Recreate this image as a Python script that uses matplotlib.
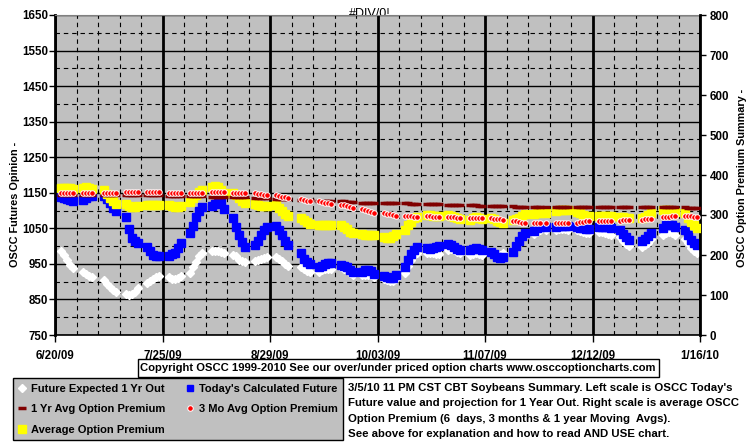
import matplotlib
matplotlib.use("Agg")
import matplotlib.pyplot as plt
import pandas as pd
from matplotlib.lines import Line2D
from matplotlib.patches import Rectangle

plt.rcParams['font.family'] = ['Liberation Sans', 'DejaVu Sans']
plt.rcParams['font.weight'] = 'bold'

# trading days shown on the chart (weekdays, exchange holidays left out)
holidays = ['2009-07-03', '2009-09-07', '2009-11-26', '2009-12-25', '2010-01-01']
days = pd.bdate_range('2009-06-22', '2010-01-15')
days = days[~days.isin(pd.to_datetime(holidays))]

# left scale: futures opinion (one line per week)
fut_1yr = [
    985, 975, 962, 948, 938,
    928, 922, 917, 912,
    905, 893, 884, 877, 872,
    865, 863, 865, 870, 882,
    895, 903, 908, 912, 915,
    912, 908, 908, 910, 915,
    925, 940, 955, 972, 980,
    986, 987, 986, 983, 980,
    975, 972, 962, 958, 955,
    958, 960, 963, 966, 968,
    970, 965, 958, 950, 943,
    940, 935, 930, 928,
    928, 932, 935, 936, 937,
    940, 937, 932, 925, 920,
    920, 920, 920, 918, 912,
    908, 905, 903, 903, 908,
    925, 945, 962, 975, 982,
    980, 982, 980, 978, 978,
    990, 992, 988, 984, 980,
    975, 978, 980, 978, 976,
    980, 975, 970, 975, 982,
    990, 1005, 1015, 1025, 1030,
    1033, 1040, 1045, 1045,
    1045, 1048, 1048, 1047, 1045,
    1045, 1042, 1040, 1038, 1038,
    1040, 1040, 1038, 1035, 1030,
    1025, 1015, 1005, 1000,
    998, 1003, 1010, 1020,
    1030, 1038, 1040, 1038, 1032,
    1020, 1008, 995, 985, 980,
]
fut_today = [
    1138, 1135, 1132, 1130, 1128,
    1130, 1135, 1140, 1142,
    1140, 1132, 1120, 1108, 1098,
    1082, 1048, 1023, 1015, 1009,
    998, 985, 974, 972, 972,
    972, 978, 980, 995, 1009,
    1037, 1057, 1082, 1099, 1110,
    1114, 1118, 1121, 1121, 1104,
    1079, 1055, 1030, 1012, 998,
    1002, 1015, 1031, 1045, 1054,
    1057, 1045, 1030, 1015, 1003,
    980, 965, 955, 950,
    942, 945, 950, 953, 952,
    948, 945, 940, 933, 928,
    928, 932, 934, 930, 922,
    916, 912, 910, 910, 920,
    940, 960, 978, 990, 997,
    995, 993, 996, 998, 1000,
    1005, 1002, 998, 993, 988,
    988, 993, 995, 992, 988,
    983, 978, 970, 967, 970,
    983, 1000, 1015, 1028, 1037,
    1042, 1050, 1054, 1054,
    1055, 1057, 1057, 1057, 1056,
    1055, 1052, 1050, 1048, 1048,
    1053, 1054, 1054, 1053, 1050,
    1045, 1035, 1025, 1017,
    1015, 1020, 1028, 1037,
    1050, 1058, 1060, 1058, 1054,
    1045, 1032, 1018, 1009, 1002,
]

# right scale: option premium averages
avg_prem = [
    368, 368, 367, 367, 366,
    368, 370, 368, 364,
    362, 352, 343, 335, 328,
    328, 322, 320, 320, 322,
    325, 325, 325, 325, 325,
    325, 322, 320, 320, 322,
    332, 342, 350, 357, 362,
    370, 372, 370, 362, 355,
    355, 350, 342, 335, 330,
    327, 325, 323, 322, 322,
    325, 318, 310, 303, 298,
    293, 287, 282, 278,
    275, 275, 276, 276, 275,
    275, 270, 265, 258, 255,
    252, 250, 250, 250, 250,
    245, 243, 243, 248, 253,
    262, 275, 283, 292, 296,
    300, 300, 298, 297, 297,
    300, 298, 296, 293, 290,
    288, 292, 295, 293, 290,
    292, 290, 286, 283, 280,
    288, 290, 293, 298, 302,
    303, 305, 306, 306,
    310, 312, 312, 312, 312,
    308, 305, 300, 298, 297,
    298, 298, 298, 297, 297,
    295, 294, 293, 293,
    292, 295, 300, 305,
    312, 313, 312, 310, 308,
    305, 293, 283, 275, 268,
]
avg_3mo = [
    355, 355, 355, 355, 355,
    355, 355, 355, 355,
    355, 355, 355, 355, 355,
    357, 357, 357, 357, 357,
    357, 357, 357, 357, 357,
    356, 356, 356, 356, 356,
    356, 356, 356, 356, 356,
    358, 358, 358, 358, 358,
    356, 356, 356, 356, 356,
    354, 353, 352, 351, 350,
    350, 348, 346, 344, 342,
    340, 338, 336, 334,
    334, 332, 330, 329, 328,
    326, 324, 322, 320, 318,
    316, 313, 310, 308, 306,
    305, 303, 302, 300, 298,
    298, 297, 297, 296, 296,
    297, 297, 296, 296, 296,
    295, 294, 294, 293, 293,
    293, 293, 292, 292, 292,
    292, 291, 290, 289, 288,
    286, 284, 282, 281, 280,
    280, 280, 280, 280,
    279, 279, 279, 279, 279,
    281, 282, 283, 284, 284,
    284, 285, 286, 286, 286,
    286, 287, 287, 287,
    288, 289, 290, 291,
    295, 296, 296, 297, 297,
    298, 298, 297, 296, 296,
]
avg_1yr = [
    351, 351, 351, 351, 351,
    351, 351, 351, 351,
    350, 350, 350, 350, 350,
    350, 350, 350, 350, 350,
    349, 349, 349, 349, 349,
    348, 348, 348, 348, 348,
    347, 347, 347, 347, 347,
    346, 346, 346, 346, 346,
    345, 345, 345, 345, 345,
    343, 343, 342, 342, 342,
    341, 341, 340, 340, 340,
    338, 338, 337, 337,
    336, 336, 336, 335, 335,
    334, 334, 333, 333, 333,
    331, 331, 331, 330, 330,
    330, 330, 330, 329, 329,
    329, 329, 328, 328, 328,
    328, 328, 327, 327, 327,
    326, 326, 325, 325, 325,
    324, 324, 324, 323, 323,
    323, 323, 322, 322, 322,
    322, 321, 321, 321, 321,
    321, 321, 320, 320,
    320, 320, 320, 320, 320,
    320, 320, 320, 320, 320,
    320, 320, 320, 320, 320,
    320, 320, 320, 320,
    320, 320, 319, 319,
    319, 319, 319, 319, 319,
    319, 318, 318, 318, 318,
]

xtick_labels = ['6/20/09', '7/25/09', '8/29/09', '10/03/09', '11/07/09', '12/12/09', '1/16/10']
legend_labels = ['Future Expected 1 Yr Out', "Today's Calculated Future",
                 '1 Yr Avg Option Premium', '3 Mo Avg Option Premium',
                 'Average Option Premium']
note_lines = [
    "3/5/10 11 PM CST CBT Soybeans Summary. Left scale is OSCC Today's",
    "Future value and projection for 1 Year Out. Right scale is average OSCC",
    "Option Premium (6  days, 3 months & 1 year Moving  Avgs).",
    "See above for explanation and how to read AND USE chart.",
]

W, H = 755, 446
fig = plt.figure(figsize=(W / 100, H / 100), dpi=100)
fig.patch.set_facecolor('white')

ax = fig.add_axes([55 / W, 1 - 335 / H, 645 / W, 320 / H])
ax.set_facecolor('#C0C0C0')
ax.set_xlim(pd.Timestamp('2009-06-20'), pd.Timestamp('2010-01-16'))
ax.set_ylim(750, 1650)
ax.set_xticks(pd.date_range('2009-06-20', periods=7, freq='35D'))
ax.set_xticklabels(xtick_labels)
ax.set_xticks(pd.date_range('2009-06-20', periods=31, freq='7D'), minor=True)
ax.set_yticks(range(750, 1651, 100))
ax.set_yticks(range(800, 1601, 100), minor=True)

ax.grid(which='major', axis='x', color='black', lw=2, ls='-')
ax.grid(which='minor', axis='x', color='black', lw=0.8, ls=(0, (4, 3.5)))
ax.grid(which='major', axis='y', color='black', lw=1, ls='-')
ax.grid(which='minor', axis='y', color='black', lw=0.8, ls=(0, (4, 3.5)))
ax.set_axisbelow(True)

ax.tick_params(axis='both', which='minor', length=0)
ax.tick_params(axis='y', which='major', length=4, width=1, pad=1, labelsize=8.3)
ax.tick_params(axis='x', which='major', length=5, width=1, pad=6, labelsize=8.3)

ax.spines['top'].set_color('#808080')
ax.spines['left'].set_linewidth(2)
ax.spines['bottom'].set_linewidth(1.2)
ax.spines['right'].set_visible(False)

ax2 = ax.twinx()
ax2.set_ylim(0, 800)
ax2.set_yticks(range(0, 801, 100))
ax2.tick_params(axis='y', length=4, width=1, pad=3, labelsize=8.3)
ax2.spines['right'].set_linewidth(2)
ax2.spines['top'].set_visible(False)
ax2.spines['left'].set_visible(False)
ax2.spines['bottom'].set_visible(False)

ax.plot(days, fut_1yr, ls='none', marker='D', ms=4.4,
        mfc='white', mec='white', zorder=3)
ax.plot(days, fut_today, ls='none', marker='s', ms=5.7,
        mfc='#0000FF', mec='#0000FF', zorder=4)
ax2.plot(days, avg_prem, ls='none', marker='s', ms=5.7,
         mfc='#FFFF00', mec='#FFFF00', zorder=3)
ax2.plot(days, avg_1yr, ls='none', marker='_', ms=6, mew=2.5,
         color='#800000', zorder=4)
ax2.plot(days, avg_3mo, ls='none', marker='o', ms=4,
         mfc='red', mec='white', mew=0.7, zorder=5)

fig.text(15 / W, 1 - 204 / H, 'OSCC Futures Opinion -', rotation=90,
         ha='center', va='center', fontsize=7.8)
fig.text(742 / W, 1 - 178 / H, 'OSCC Option Premium Summary -', rotation=90,
         ha='center', va='center', fontsize=7.8)
fig.text(370 / W, 1 - 17 / H, '#DIV/0!', ha='center', va='baseline',
         fontsize=9, fontweight='normal', zorder=-1)

# copyright strip
fig.patches.append(Rectangle((138 / W, 1 - 377 / H), 521 / W, 18 / H,
                             transform=fig.transFigure, fc='white',
                             ec='black', lw=1))
fig.text(398 / W, 1 - 368 / H,
         'Copyright OSCC 1999-2010 See our over/under priced option charts www.osccoptioncharts.com',
         ha='center', va='center', fontsize=8.1)

leg_handles = [
    Line2D([], [], ls='none', marker='D', ms=4.5, mfc='white', mec='white'),
    Line2D([], [], ls='none', marker='_', ms=6, mew=2.5, color='#800000'),
    Line2D([], [], ls='none', marker='s', ms=5.5, mfc='#FFFF00', mec='#FFFF00'),
    Line2D([], [], ls='none', marker='s', ms=5, mfc='#0000FF', mec='#0000FF'),
    Line2D([], [], ls='none', marker='o', ms=4, mfc='red', mec='white', mew=0.7),
]
leg_text = [legend_labels[0], legend_labels[2], legend_labels[4],
            legend_labels[1], legend_labels[3]]
leg = fig.legend(leg_handles, leg_text, loc='upper left', ncol=2,
                 bbox_to_anchor=(13 / W, 1 - 378 / H, 330 / W, 0), mode='expand',
                 borderaxespad=0, borderpad=0.5, labelspacing=0.95,
                 handlelength=0.7, handletextpad=0.4, columnspacing=1.0,
                 fancybox=False, framealpha=1, facecolor='#C0C0C0',
                 edgecolor='black', prop={'size': 8, 'weight': 'bold'})
leg.get_frame().set_linewidth(1)

for i, line in enumerate(note_lines):
    fig.text(348 / W, 1 - (388 + 15.3 * i) / H, line, ha='left', va='center',
             fontsize=8.2)

fig.savefig('out.png', dpi=100)
